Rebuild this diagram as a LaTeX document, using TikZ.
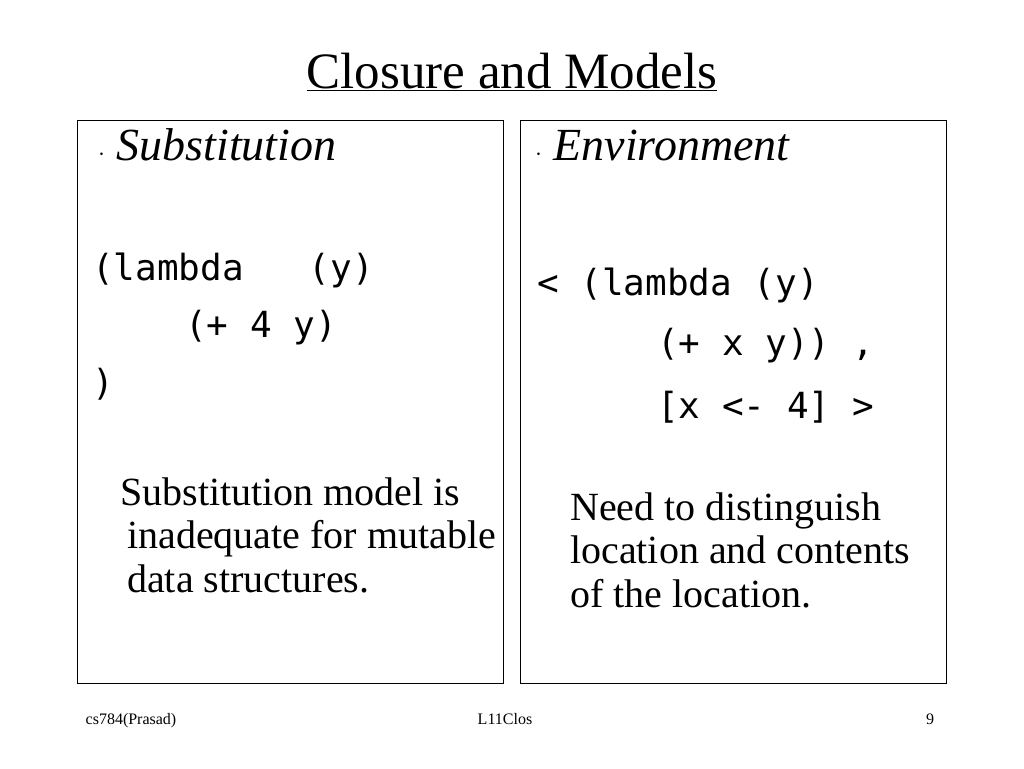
\documentclass[tikz,border=0pt]{standalone}
\usepackage{fontspec}
\setmainfont{Liberation Serif}
\setmonofont{DejaVu Sans Mono}
\begin{document}
\begin{tikzpicture}[x=1pt,y=-1pt,
    code/.style={anchor=base west,inner sep=0pt,font=\fontsize{36}{42}\selectfont\ttfamily},
    body/.style={anchor=base west,inner sep=0pt,font=\fontsize{40}{46}\selectfont},
    head/.style={anchor=base west,inner sep=0pt,font=\fontsize{46}{52}\selectfont\itshape},
    foot/.style={anchor=base,inner sep=0pt,font=\fontsize{16}{18}\selectfont}]
    \useasboundingbox (0,0) rectangle (1024,768);
    % Title
    \node[anchor=base,inner sep=0pt,font=\fontsize{51}{58}\selectfont] (title) at (512,88) {\underline{Closure and Models}};

    % Left panel
    \draw[line width=0.8pt] (77,120) rectangle (503,683);
    \node[head] (subst) at (98,160) {$\cdot$\ Substitution};
    \node[code] (lamL) at (92,280) {(lambda\ \ \ (y)};
    \node[code] (bodyL) at (185,337) {(+ 4 y)};
    \node[code] (closeL) at (92,395) {)};
    \node[body] (txtLa) at (120,505) {Substitution model is};
    \node[body] (txtLb) at (127,548) {inadequate for mutable};
    \node[body] (txtLc) at (127,592) {data structures.};

    % Right panel
    \draw[line width=0.8pt] (520,120) rectangle (946,683);
    \node[head] (env) at (535,160) {$\cdot$\ Environment};
    \node[code] (lamR) at (537,295) {< (lambda (y)};
    \node[code] (bodyR) at (657,355) {(+ x y)) ,};
    \node[code] (bindR) at (657,418) {[x <- 4] >};
    \node[body] (txtRa) at (570,520) {Need to distinguish};
    \node[body] (txtRb) at (570,563) {location and contents};
    \node[body] (txtRc) at (570,607) {of the location.};

    % Footer
    \node[foot] (course) at (131,724) {cs784(Prasad)};
    \node[foot] (slide) at (505,724) {L11Clos};
    \node[foot] (page) at (930,724) {9};
\end{tikzpicture}
\end{document}
